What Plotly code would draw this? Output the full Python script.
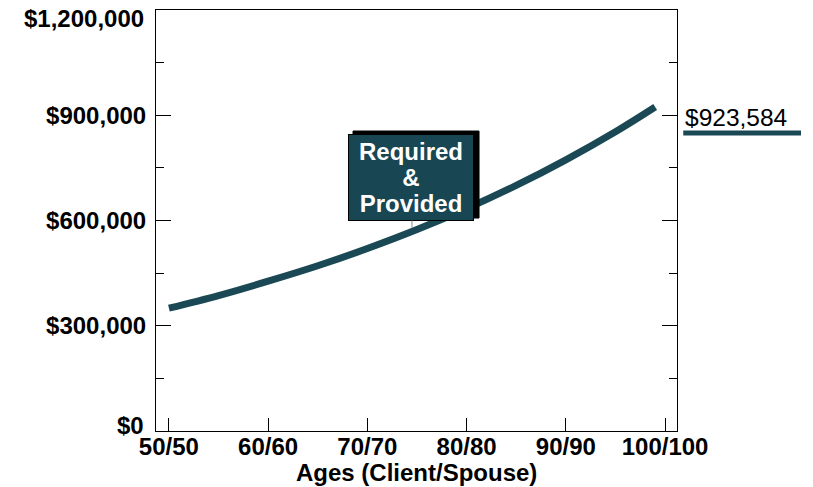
import plotly.graph_objects as go

# Projected balance by age (client/spouse)
ages = [50, 55, 60, 65, 70, 75, 80, 85, 90, 95, 99]
balance = [350000, 386000, 427000, 471000, 520000, 574000, 634000, 700000, 773000, 853000, 923584]

x_ticks = [50, 60, 70, 80, 90, 100]
x_tick_labels = ["50/50", "60/60", "70/70", "80/80", "90/90", "100/100"]
y_ticks = [0, 300000, 600000, 900000, 1200000]
y_tick_labels = ["$0", "$300,000", "$600,000", "$900,000", "$1,200,000"]

# Point on the curve that the callout points to
callout_age = 74.5
callout_value = 580000

final_value = balance[-1]
line_color = "#1a4955"
box_color = "#184652"
font_family = "Liberation Sans, Arial, sans-serif"
label_size = 24

# The end tick labels would collide with the figure edge / x labels, so they
# are drawn separately, nudged inward; the others stay as regular tick labels.
axis_tick_text = [""] + [f"<b>{t}</b>" for t in y_tick_labels[1:-1]] + [""]

fig = go.Figure()
fig.add_trace(go.Scatter(
    x=ages, y=balance, mode="lines",
    line=dict(color=line_color, width=7, shape="spline"),
    hoverinfo="skip", showlegend=False,
))

fig.update_layout(
    width=813, height=487,
    margin=dict(l=156, r=136, t=10, b=56),
    paper_bgcolor="white", plot_bgcolor="white",
    font=dict(family=font_family, size=label_size, color="black"),
    showlegend=False,
    hovermode=False,
    xaxis=dict(
        range=[48.7, 101.2],
        tickvals=x_ticks,
        ticktext=[f"<b>{t}</b>" for t in x_tick_labels],
        ticks="inside", ticklen=13, tickcolor="black", tickwidth=1,
        showline=True, linecolor="black", linewidth=1, mirror=True,
        showgrid=False, zeroline=False, automargin=False,
        ticklabelstandoff=-6,
    ),
    yaxis=dict(
        range=[0, 1200000],
        tickvals=y_ticks,
        ticktext=axis_tick_text,
        ticks="inside", ticklen=15, tickcolor="black", tickwidth=1,
        minor=dict(dtick=150000, ticks="inside", ticklen=8,
                   tickcolor="black", showgrid=False),
        showline=True, linecolor="black", linewidth=1, mirror="ticks",
        showgrid=False, zeroline=False, automargin=False,
        ticklabelstandoff=4,
    ),
)

# Nudged end labels of the value axis
for val, text, shift in [(y_ticks[0], y_tick_labels[0], 6),
                         (y_ticks[-1], y_tick_labels[-1], -8)]:
    fig.add_annotation(
        x=0, y=val, xref="paper", yref="y",
        xanchor="right", yanchor="middle", xshift=-10, yshift=shift,
        text=f"<b>{text}</b>", showarrow=False,
        font=dict(size=label_size, color="black", family=font_family),
    )

# Age axis title
fig.add_annotation(
    x=0.5, y=0, xref="paper", yref="paper",
    xanchor="center", yanchor="middle", yshift=-41, borderpad=0,
    text="<b>Ages (Client/Spouse)</b>", showarrow=False,
    font=dict(size=label_size, color="black", family=font_family),
)

# 3D shadow block behind the callout box (pixel offsets from the pointed spot)
fig.add_shape(
    type="rect", xref="x", yref="y",
    xsizemode="pixel", ysizemode="pixel",
    xanchor=callout_age, yanchor=callout_value,
    x0=-59, x1=67, y0=9.5, y1=96.5,
    fillcolor="black", line=dict(color="black", width=1), layer="above",
)

# Callout box; the smaller base font keeps the line spacing tight while
# the spans carry the larger text size.
callout_lines = ["Required", "&", "Provided"]
callout_text = "<br>".join(
    f'<span style="font-size:{label_size}px"><b>{s}</b></span>' for s in callout_lines
)
fig.add_annotation(
    x=callout_age, y=callout_value, xref="x", yref="y",
    ax=-1, ay=-50, axref="pixel", ayref="pixel",
    text=callout_text, showarrow=True, arrowhead=0,
    arrowwidth=1, arrowcolor="#888888",
    bgcolor=box_color, bordercolor="black", borderwidth=1, borderpad=4,
    width=116, height=77,
    font=dict(color="white", size=20, family=font_family),
    align="center", valign="middle",
)

# End value label with its swatch line
fig.add_annotation(
    x=1, y=final_value, xref="paper", yref="y",
    xanchor="left", yanchor="middle", xshift=6, yshift=-11,
    text=f"${final_value:,.0f}", showarrow=False,
    font=dict(size=24.5, color="black", family=font_family),
)
fig.add_shape(
    type="line", xref="paper", yref="y",
    x0=1.012, x1=1.238, ysizemode="pixel", yanchor=final_value,
    y0=-26, y1=-26,
    line=dict(color=line_color, width=5),
)

fig.write_html("out.html", config={"displayModeBar": False})
